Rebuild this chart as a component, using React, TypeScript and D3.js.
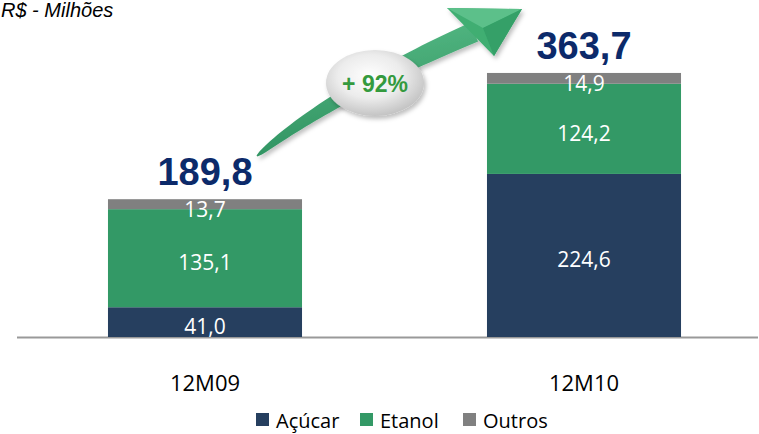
import React, { useEffect, useRef } from "react";
import * as d3 from "d3";

// periods and series values (R$ milhões)
const categories = ["12M09", "12M10"];
const seriesNames = ["Açúcar", "Etanol", "Outros"];
const acucar = [41.0, 224.6];
const etanol = [135.1, 124.2];
const outros = [13.7, 14.9];
const totals = [189.8, 363.7];
const growthLabel = "+ 92%";

const colors = ["#263F5F", "#339966", "#808080"];

const fmt = (v: number) => v.toFixed(1).replace(".", ",");

const App = () => {
  const ref = useRef<SVGSVGElement | null>(null);

  useEffect(() => {
    const svg = d3.select(ref.current);
    svg.selectAll("*").remove();

    const baseY = 337;

    const x = d3
      .scaleBand<string>()
      .domain(categories)
      .range([15.5, 773.5])
      .paddingInner(0.488)
      .paddingOuter(0.244);
    const y = d3.scaleLinear().domain([0, 400]).range([baseY, baseY - 290.4]);

    const rows = categories.map((c, i) => ({
      cat: c,
      "Açúcar": acucar[i],
      Etanol: etanol[i],
      Outros: outros[i],
    }));
    const stack = d3.stack<any>().keys(seriesNames)(rows);

    const defs = svg.append("defs");
    const shaftGrad = defs
      .append("linearGradient")
      .attr("id", "shaftGrad")
      .attr("x1", "0")
      .attr("y1", "0")
      .attr("x2", "0.3")
      .attr("y2", "1");
    shaftGrad.append("stop").attr("offset", "0%").attr("stop-color", "#5CC08A");
    shaftGrad.append("stop").attr("offset", "100%").attr("stop-color", "#2E9160");

    const ellGrad = defs
      .append("radialGradient")
      .attr("id", "ellGrad")
      .attr("cx", "0.45")
      .attr("cy", "0.4")
      .attr("r", "0.6");
    ellGrad.append("stop").attr("offset", "0%").attr("stop-color", "#ffffff");
    ellGrad.append("stop").attr("offset", "55%").attr("stop-color", "#ececec");
    ellGrad.append("stop").attr("offset", "100%").attr("stop-color", "#c4c4c4");

    const shadow = defs
      .append("filter")
      .attr("id", "shadow")
      .attr("x", "-20%")
      .attr("y", "-20%")
      .attr("width", "140%")
      .attr("height", "140%");
    shadow
      .append("feDropShadow")
      .attr("dx", 2)
      .attr("dy", 3)
      .attr("stdDeviation", 2)
      .attr("flood-color", "#000")
      .attr("flood-opacity", 0.25);

    // title
    svg
      .append("text")
      .attr("x", 1)
      .attr("y", 17)
      .style("font-family", "'Liberation Sans', Arial, sans-serif")
      .style("font-style", "italic")
      .style("font-size", "20px")
      .attr("fill", "#000")
      .text("R$ - Milhões");

    // axis line
    svg
      .append("line")
      .attr("x1", 17)
      .attr("x2", 758)
      .attr("y1", baseY + 0.5)
      .attr("y2", baseY + 0.5)
      .attr("stroke", "#999")
      .attr("stroke-width", 2);

    // stacked bars
    stack.forEach((layer, li) => {
      svg
        .append("g")
        .selectAll("rect")
        .data(layer)
        .enter()
        .append("rect")
        .attr("x", (d: any) => x(d.data.cat)!)
        .attr("width", x.bandwidth())
        .attr("y", (d: any) => y(d[1]))
        .attr("height", (d: any) => y(d[0]) - y(d[1]))
        .attr("fill", colors[li]);
    });

    // segment labels
    stack.forEach((layer, li) => {
      svg
        .append("g")
        .selectAll("text")
        .data(layer)
        .enter()
        .append("text")
        .attr("x", (d: any) => x(d.data.cat)! + x.bandwidth() / 2)
        .attr("y", (d: any) => (y(d[0]) + y(d[1])) / 2 + (li === 2 ? 5 : 4))
        .attr("text-anchor", "middle")
        .attr("dominant-baseline", "central")
        .style("font-family", "'Open Sans', sans-serif")
        .style("font-size", "21px")
        .attr("fill", "#fff")
        .text((d: any) => fmt(d[1] - d[0]));
    });

    // totals
    svg
      .append("g")
      .selectAll("text")
      .data(totals)
      .enter()
      .append("text")
      .attr("x", (_d, i) => x(categories[i])! + x.bandwidth() / 2)
      .attr("y", (d) => y(d) - 14)
      .attr("text-anchor", "middle")
      .style("font-family", "'Liberation Sans', Arial, sans-serif")
      .style("font-weight", "bold")
      .style("font-size", "38px")
      .attr("fill", "#0C2A6A")
      .text((d) => fmt(d));

    // category labels
    svg
      .append("g")
      .selectAll("text")
      .data(categories)
      .enter()
      .append("text")
      .attr("x", (d) => x(d)! + x.bandwidth() / 2)
      .attr("y", 391)
      .attr("text-anchor", "middle")
      .style("font-family", "'Open Sans', sans-serif")
      .style("font-size", "22px")
      .attr("fill", "#000")
      .text((d) => d);

    // growth arrow
    const p0 = [257, 156];
    const c = [330, 95];
    const p1 = [474, 32];
    const steps = 40;
    const left: [number, number][] = [];
    const right: [number, number][] = [];
    for (let i = 0; i <= steps; i++) {
      const t = i / steps;
      const px = (1 - t) * (1 - t) * p0[0] + 2 * (1 - t) * t * c[0] + t * t * p1[0];
      const py = (1 - t) * (1 - t) * p0[1] + 2 * (1 - t) * t * c[1] + t * t * p1[1];
      const dx = 2 * (1 - t) * (c[0] - p0[0]) + 2 * t * (p1[0] - c[0]);
      const dy = 2 * (1 - t) * (c[1] - p0[1]) + 2 * t * (p1[1] - c[1]);
      const len = Math.hypot(dx, dy);
      const nx = -dy / len;
      const ny = dx / len;
      const w = (1.5 + 19 * Math.pow(t, 0.55)) / 2;
      left.push([px + nx * w, py + ny * w]);
      right.push([px - nx * w, py - ny * w]);
    }
    const shaft = left.concat(right.reverse());
    const arrowG = svg.append("g").attr("filter", "url(#shadow)");
    arrowG
      .append("path")
      .attr("d", d3.line()(shaft) + "Z")
      .attr("fill", "url(#shaftGrad)");
    const head: [number, number][] = [
      [447, 8],
      [522, 9],
      [494, 56],
    ];
    const inner: [number, number] = [483, 28];
    arrowG
      .append("path")
      .attr("d", d3.line()(head) + "Z")
      .attr("fill", "#3FAE72");
    arrowG
      .append("path")
      .attr("d", d3.line()([head[0], head[1], inner]) + "Z")
      .attr("fill", "#5CC08A");
    arrowG
      .append("path")
      .attr("d", d3.line()([head[1], head[2], inner]) + "Z")
      .attr("fill", "#34A067");

    // growth bubble
    svg
      .append("ellipse")
      .attr("cx", 375)
      .attr("cy", 83)
      .attr("rx", 49)
      .attr("ry", 33)
      .attr("fill", "url(#ellGrad)")
      .attr("filter", "url(#shadow)");
    svg
      .append("text")
      .attr("x", 375)
      .attr("y", 92)
      .attr("text-anchor", "middle")
      .style("font-family", "'Liberation Sans', Arial, sans-serif")
      .style("font-weight", "bold")
      .style("font-size", "23px")
      .attr("fill", "#349A3E")
      .text(growthLabel);

    // legend
    const legendX = [256, 360, 463];
    const lg = svg
      .append("g")
      .selectAll("g")
      .data(seriesNames)
      .enter()
      .append("g")
      .attr("transform", (_d, i) => `translate(${legendX[i]}, 413)`);
    lg.append("rect")
      .attr("width", 13)
      .attr("height", 13)
      .attr("fill", (_d, i) => colors[i]);
    lg.append("text")
      .attr("x", 20)
      .attr("y", 15)
      .style("font-family", "'Open Sans', sans-serif")
      .style("font-size", "20px")
      .attr("fill", "#000")
      .text((d) => d);
  }, []);

  return (
    <svg
      ref={ref}
      width={759}
      height={434}
      style={{ position: "absolute", left: 0, top: 0, background: "#fff" }}
    />
  );
};

export default App;
